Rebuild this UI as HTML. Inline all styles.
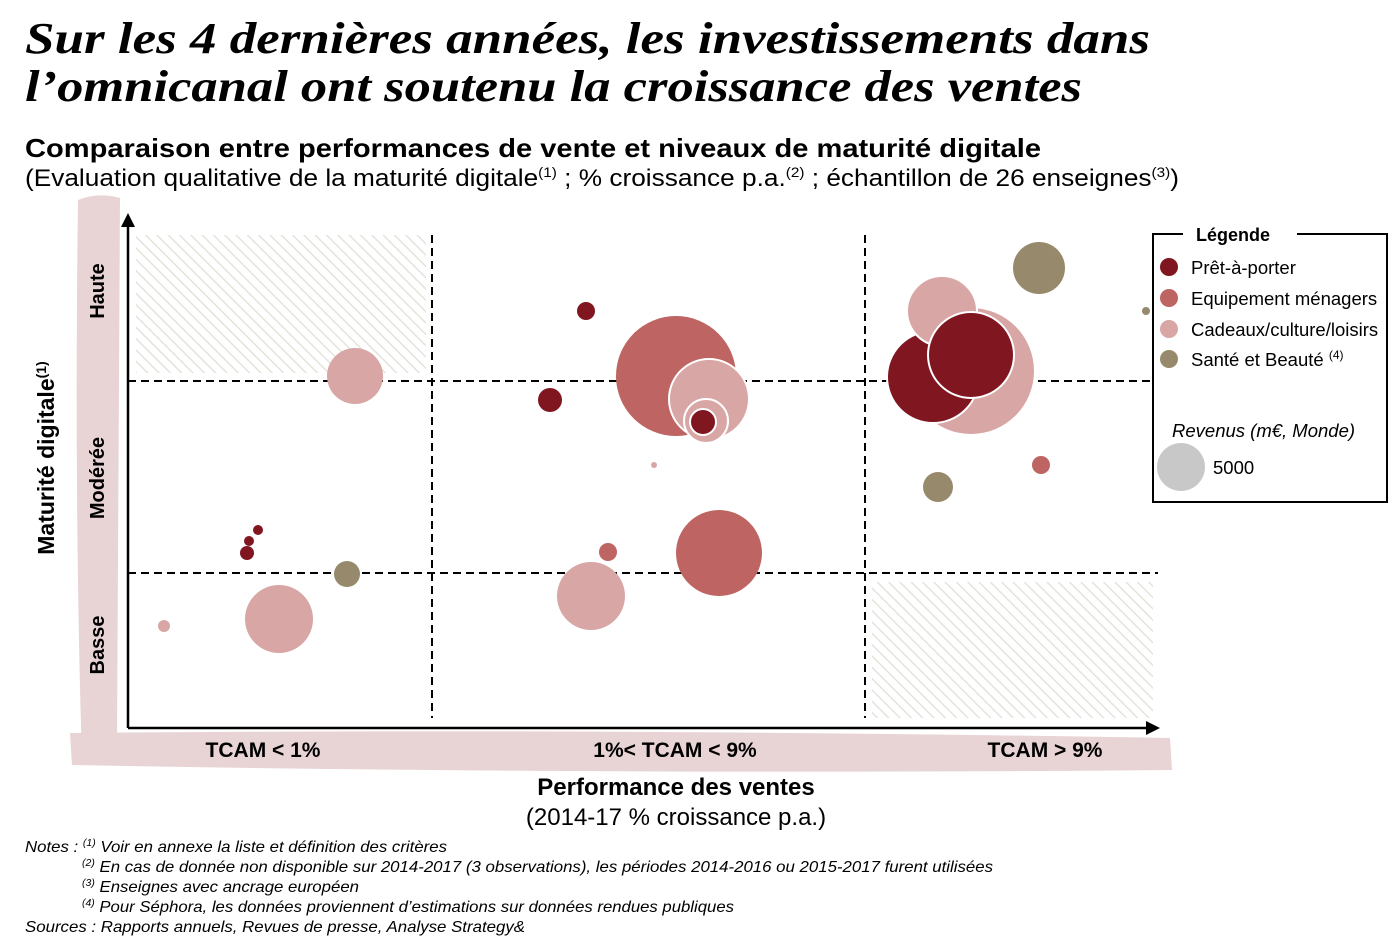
<!DOCTYPE html>
<html><head><meta charset="utf-8"><style>
html,body{margin:0;padding:0;background:#fff;}
svg{display:block;}
text{font-family:"Liberation Sans",sans-serif;}
</style></head><body>
<svg width="1399" height="947" viewBox="0 0 1399 947" xmlns="http://www.w3.org/2000/svg">
<defs>
<pattern id="h" patternUnits="userSpaceOnUse" width="8" height="8" patternTransform="rotate(-45)">
<rect width="8" height="8" fill="#fff"/><line x1="0" y1="0" x2="0" y2="8" stroke="#e4e4dc" stroke-width="3"/>
</pattern>
</defs>
<text x="25" y="53" font-weight="bold" font-style="italic" font-size="44" textLength="1125" lengthAdjust="spacingAndGlyphs" style="font-family:'Liberation Serif',serif">Sur les 4 dernières années, les investissements dans</text>
<text x="25" y="101" font-weight="bold" font-style="italic" font-size="44" textLength="1057" lengthAdjust="spacingAndGlyphs" style="font-family:'Liberation Serif',serif">l’omnicanal ont soutenu la croissance des ventes</text>
<text x="25" y="157" font-weight="bold" font-size="26" textLength="1016" lengthAdjust="spacingAndGlyphs">Comparaison entre performances de vente et niveaux de maturité digitale</text>
<text x="25" y="186" font-size="24" textLength="1154" lengthAdjust="spacingAndGlyphs">(Evaluation qualitative de la maturité digitale<tspan font-size="14" dy="-9">(1)</tspan><tspan dy="9"> ; % croissance p.a.</tspan><tspan font-size="14" dy="-9">(2)</tspan><tspan dy="9"> ; échantillon de 26 enseignes</tspan><tspan font-size="14" dy="-9">(3)</tspan><tspan dy="9">)</tspan></text>

<path d="M78 200 Q98 192 120 198 L117 740 L82 760 Q74 500 78 200Z" fill="#e8d3d5"/>
<path d="M70 733 Q600 728 1170 738 L1172 770 Q600 775 72 765 Z" fill="#e8d3d5"/>

<rect x="136" y="235" width="290" height="138" fill="url(#h)"/>
<rect x="872" y="582" width="281" height="136" fill="url(#h)"/>

<line x1="128" y1="225" x2="128" y2="728" stroke="#000" stroke-width="2.5"/>
<polygon points="121,227 135,227 128,213" fill="#000"/>
<line x1="128" y1="728" x2="1148" y2="728" stroke="#000" stroke-width="2.5"/>
<polygon points="1146,721 1146,735 1160,728" fill="#000"/>

<g stroke="#000" stroke-width="2" stroke-dasharray="8,5" fill="none">
<line x1="432" y1="235" x2="432" y2="718"/>
<line x1="865" y1="235" x2="865" y2="718"/>
<line x1="128" y1="381" x2="1153" y2="381"/>
<line x1="128" y1="573" x2="1158" y2="573"/>
</g>

<circle cx="355" cy="376" r="28" fill="#d9a6a6"/>
<circle cx="258" cy="530" r="5" fill="#7f1620"/>
<circle cx="249" cy="541" r="5" fill="#7f1620"/>
<circle cx="247" cy="553" r="7" fill="#7f1620"/>
<circle cx="347" cy="574" r="13" fill="#978a6c"/>
<circle cx="279" cy="619" r="34" fill="#d9a6a6"/>
<circle cx="164" cy="626" r="6" fill="#d9a6a6"/>

<circle cx="586" cy="311" r="9" fill="#7f1620"/>
<circle cx="550" cy="400" r="12" fill="#7f1620"/>
<circle cx="676" cy="376" r="60" fill="#be6462"/>
<circle cx="709" cy="399" r="40" fill="#d9a6a6" stroke="#fff" stroke-width="2"/>
<circle cx="706" cy="421" r="22" fill="#d9a6a6" stroke="#fff" stroke-width="2"/>
<circle cx="703" cy="422" r="13" fill="#7f1620" stroke="#fff" stroke-width="2"/>
<circle cx="654" cy="465" r="3" fill="#d9a6a6"/>
<circle cx="608" cy="552" r="9" fill="#be6462"/>
<circle cx="719" cy="553" r="43" fill="#be6462"/>
<circle cx="591" cy="596" r="34" fill="#d9a6a6"/>

<circle cx="1039" cy="268" r="26" fill="#978a6c"/>
<circle cx="1146" cy="311" r="4" fill="#978a6c"/>
<circle cx="971" cy="371" r="63" fill="#d9a6a6"/>
<circle cx="933" cy="377" r="46" fill="#7f1620" stroke="#fff" stroke-width="2"/>
<circle cx="942" cy="311" r="35" fill="#d9a6a6" stroke="#fff" stroke-width="2"/>
<circle cx="971" cy="355" r="43" fill="#7f1620" stroke="#fff" stroke-width="2"/>
<circle cx="1041" cy="465" r="9" fill="#be6462"/>
<circle cx="938" cy="487" r="15" fill="#978a6c"/>

<text x="104" y="291" font-weight="bold" font-size="20" text-anchor="middle" transform="rotate(-90 104 291)">Haute</text>
<text x="104" y="478" font-weight="bold" font-size="20" text-anchor="middle" transform="rotate(-90 104 478)">Modérée</text>
<text x="104" y="645" font-weight="bold" font-size="20" text-anchor="middle" transform="rotate(-90 104 645)">Basse</text>
<text x="54" y="458" font-weight="bold" font-size="23" text-anchor="middle" transform="rotate(-90 54 458)">Maturité digitale<tspan font-size="14" dy="-8">(1)</tspan></text>

<text x="263" y="757" font-weight="bold" font-size="21" text-anchor="middle">TCAM &lt; 1%</text>
<text x="675" y="757" font-weight="bold" font-size="21" text-anchor="middle">1%&lt; TCAM &lt; 9%</text>
<text x="1045" y="757" font-weight="bold" font-size="21" text-anchor="middle">TCAM &gt; 9%</text>
<text x="676" y="795" font-weight="bold" font-size="24" text-anchor="middle">Performance des ventes</text>
<text x="676" y="825" font-size="24" text-anchor="middle">(2014-17 % croissance p.a.)</text>

<path d="M1183 234 L1153 234 L1153 502 L1387 502 L1387 234 L1297 234" fill="none" stroke="#000" stroke-width="2"/>
<text x="1233" y="241" font-weight="bold" font-size="18" text-anchor="middle">Légende</text>
<circle cx="1169" cy="267" r="9" fill="#7f1620"/>
<circle cx="1169" cy="298" r="9" fill="#be6462"/>
<circle cx="1169" cy="329" r="9" fill="#d9a6a6"/>
<circle cx="1169" cy="359" r="9" fill="#978a6c"/>
<text x="1191" y="274" font-size="18.5">Prêt-à-porter</text>
<text x="1191" y="305" font-size="18.5">Equipement ménagers</text>
<text x="1191" y="336" font-size="18.5">Cadeaux/culture/loisirs</text>
<text x="1191" y="366" font-size="18.5">Santé et Beauté <tspan font-size="12" dy="-7">(4)</tspan></text>
<text x="1172" y="437" font-size="18.5" font-style="italic">Revenus (m€, Monde)</text>
<circle cx="1181" cy="467" r="24" fill="#c8c8c8"/>
<text x="1213" y="474" font-size="18.5">5000</text>

<g font-size="16" font-style="italic">
<text x="25" y="852" textLength="422" lengthAdjust="spacingAndGlyphs">Notes : <tspan font-size="10" dy="-6">(1)</tspan><tspan dy="6"> Voir en annexe la liste et définition des critères</tspan></text>
<text x="82" y="872" textLength="911" lengthAdjust="spacingAndGlyphs"><tspan font-size="10" dy="-6">(2)</tspan><tspan dy="6"> En cas de donnée non disponible sur 2014-2017 (3 observations), les périodes 2014-2016 ou 2015-2017 furent utilisées</tspan></text>
<text x="82" y="892" textLength="277" lengthAdjust="spacingAndGlyphs"><tspan font-size="10" dy="-6">(3)</tspan><tspan dy="6"> Enseignes avec ancrage européen</tspan></text>
<text x="82" y="912" textLength="652" lengthAdjust="spacingAndGlyphs"><tspan font-size="10" dy="-6">(4)</tspan><tspan dy="6"> Pour Séphora, les données proviennent d’estimations sur données rendues publiques</tspan></text>
<text x="25" y="932" textLength="500" lengthAdjust="spacingAndGlyphs">Sources : Rapports annuels, Revues de presse, Analyse Strategy&amp;</text>
</g>
</svg>
</body></html>
